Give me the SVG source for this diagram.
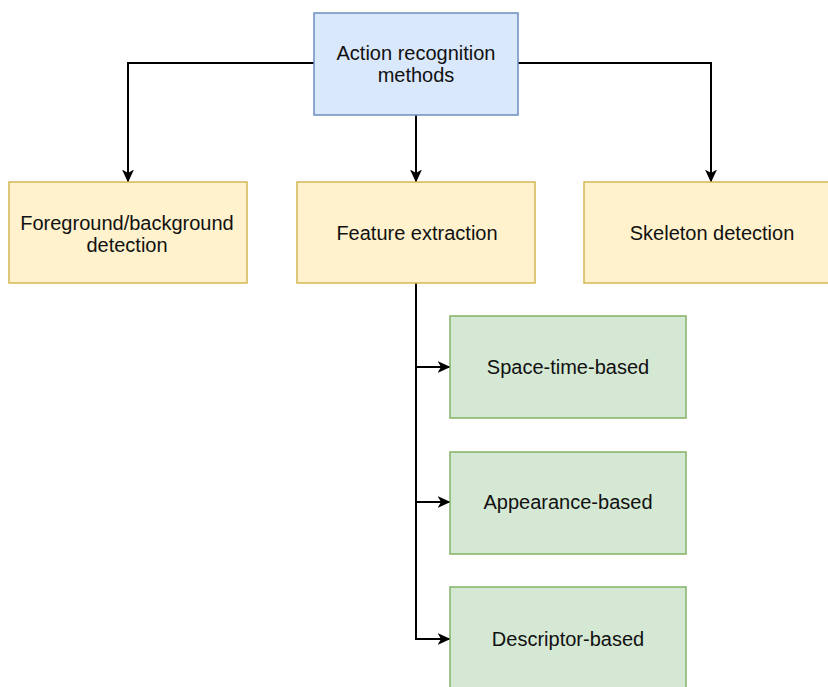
<svg xmlns="http://www.w3.org/2000/svg" width="828" height="687" viewBox="0 0 828 687">
  <defs>
    <marker id="arrow" viewBox="0 0 13 12" refX="12.5" refY="6" markerWidth="13" markerHeight="12" markerUnits="userSpaceOnUse" orient="auto">
      <path d="M0,0 L13,6 L0,12 L3.5,6 Z" fill="#000"/>
    </marker>
    <style>
      .blue { fill: #dae8fc; stroke: #6c8ebf; stroke-width: 1.5; }
      .yellow { fill: #fff2cc; stroke: #d6b656; stroke-width: 1.5; }
      .green { fill: #d5e8d4; stroke: #82b366; stroke-width: 1.5; }
      .label { font-family: "Liberation Sans", Arial, Helvetica, sans-serif; font-size: 20px; fill: #111; text-anchor: middle; }
      .edge { fill: none; stroke: #000; stroke-width: 2; marker-end: url(#arrow); }
    </style>
  </defs>
  <rect width="828" height="687" fill="#fff"/>

  <g id="connectors">
    <path class="edge" d="M314,63 H128 V182"/>
    <path class="edge" d="M416,115 V182"/>
    <path class="edge" d="M518,63 H711 V182"/>
    <path class="edge" d="M416,283 V367 H450"/>
    <path class="edge" d="M416,367 V502 H450"/>
    <path class="edge" d="M416,502 V639 H450"/>
  </g>

  <g id="action-recognition">
    <rect class="blue" x="314" y="13" width="204" height="102"/>
    <text class="label" x="416" y="60">Action recognition</text>
    <text class="label" x="416" y="82">methods</text>
  </g>

  <g id="foreground-background">
    <rect class="yellow" x="9" y="182" width="238" height="101"/>
    <text class="label" x="127" y="230">Foreground/background</text>
    <text class="label" x="127" y="252">detection</text>
  </g>

  <g id="feature-extraction">
    <rect class="yellow" x="297" y="182" width="238" height="101"/>
    <text class="label" x="417" y="240">Feature extraction</text>
  </g>

  <g id="skeleton-detection">
    <rect class="yellow" x="584" y="182" width="254" height="101"/>
    <text class="label" x="712" y="240">Skeleton detection</text>
  </g>

  <g id="space-time-based">
    <rect class="green" x="450" y="316" width="236" height="102"/>
    <text class="label" x="568" y="374">Space-time-based</text>
  </g>

  <g id="appearance-based">
    <rect class="green" x="450" y="452" width="236" height="102"/>
    <text class="label" x="568" y="509">Appearance-based</text>
  </g>

  <g id="descriptor-based">
    <rect class="green" x="450" y="587" width="236" height="102"/>
    <text class="label" x="568" y="646">Descriptor-based</text>
  </g>
</svg>
